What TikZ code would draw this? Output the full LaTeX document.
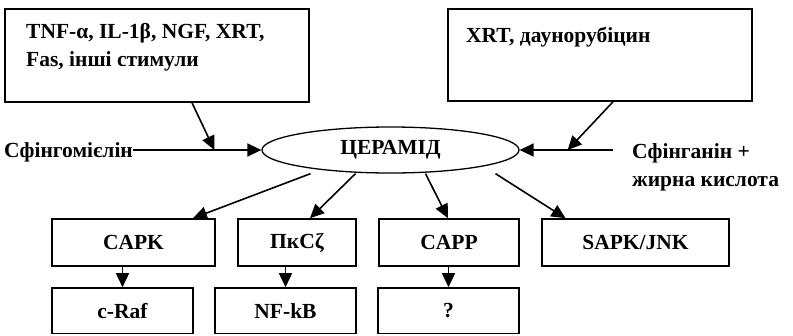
\documentclass[tikz,border=0pt]{standalone}
\usepackage{fontspec}
\setmainfont{Liberation Serif}
\usetikzlibrary{shapes.geometric,arrows.meta}

\begin{document}
\begin{tikzpicture}[x=1pt,y=-1pt,
  txt/.style={font=\fontsize{21.5pt}{28pt}\selectfont\bfseries,inner sep=0pt},
  box/.style={draw,line width=1.6pt,inner sep=0pt,font=\fontsize{21.5pt}{28pt}\selectfont\bfseries},
  arr/.style={line width=1.6pt,-{Triangle[length=14pt,width=13pt]}}]
\useasboundingbox (0,0) rectangle (793,335);
% stimuli on top
\node[box,minimum width=304pt,minimum height=93pt] (stim) at (157,55.5) {};
\node[txt,align=left,anchor=base west] (stimtxt) at (26,66.5) {TNF-α, IL-1β, NGF, XRT,\\Fas, інші стимули};
\node[box,minimum width=304pt,minimum height=92pt] (drug) at (600,55) {};
\node[txt,anchor=base west] (drugtxt) at (466,42.5) {XRT, даунорубіцин};
% ceramide and its sources
\node[draw,ellipse,line width=1.3pt,minimum width=257pt,minimum height=46pt,txt] (cer) at (390.5,150) {ЦЕРАМІД};
\node[txt,anchor=base west] (sm) at (4,157) {Сфінгомієлін};
\node[txt,align=left,anchor=base west] (sa) at (632,186) {Сфінганін +\\жирна кислота};
\coordinate (sa0) at (613,150);
% targets
\node[box,minimum width=163pt,minimum height=47pt] (capk) at (133.5,242.5) {CAPK};
\node[box,minimum width=118pt,minimum height=47pt] (pkc) at (297,242.5) {ПкСζ};
\node[box,minimum width=140pt,minimum height=47pt] (capp) at (449,242.5) {CAPP};
\node[box,minimum width=187pt,minimum height=47pt] (sapk) at (635.5,242.5) {SAPK/JNK};
\node[box,minimum width=141pt,minimum height=45.5pt] (craf) at (122.5,310.75) {c-Raf};
\node[box,minimum width=141pt,minimum height=45.5pt] (nfkb) at (285.5,310.75) {NF-kB};
\node[box,minimum width=141pt,minimum height=45.5pt] (unk) at (448.5,310.75) {?};
% arrows
\draw[arr] (sm.east |- cer.west) -- (cer.west);
\draw[arr] (sa0) -- (cer.east);
\draw[arr] ([xshift=35pt]stim.south) -- ([xshift=-47pt]cer.west);
\draw[arr] ([xshift=13pt]drug.south) -- ([xshift=48pt]cer.east);
\draw[arr] ([xshift=-80pt]cer.south) -- ([xshift=59.5pt]capk.north);
\draw[arr] ([xshift=-35pt]cer.south) -- ([xshift=13pt]pkc.north);
\draw[arr] ([xshift=35pt]cer.south) -- ([xshift=-1pt]capp.north);
\draw[arr] ([xshift=105pt]cer.south) -- ([xshift=-70pt]sapk.north);
\draw[arr] (capk.south -| craf.north) -- (craf.north);
\draw[arr] (pkc.south -| nfkb.north) -- (nfkb.north);
\draw[arr] (capp.south -| unk.north) -- (unk.north);
\end{tikzpicture}
\end{document}
